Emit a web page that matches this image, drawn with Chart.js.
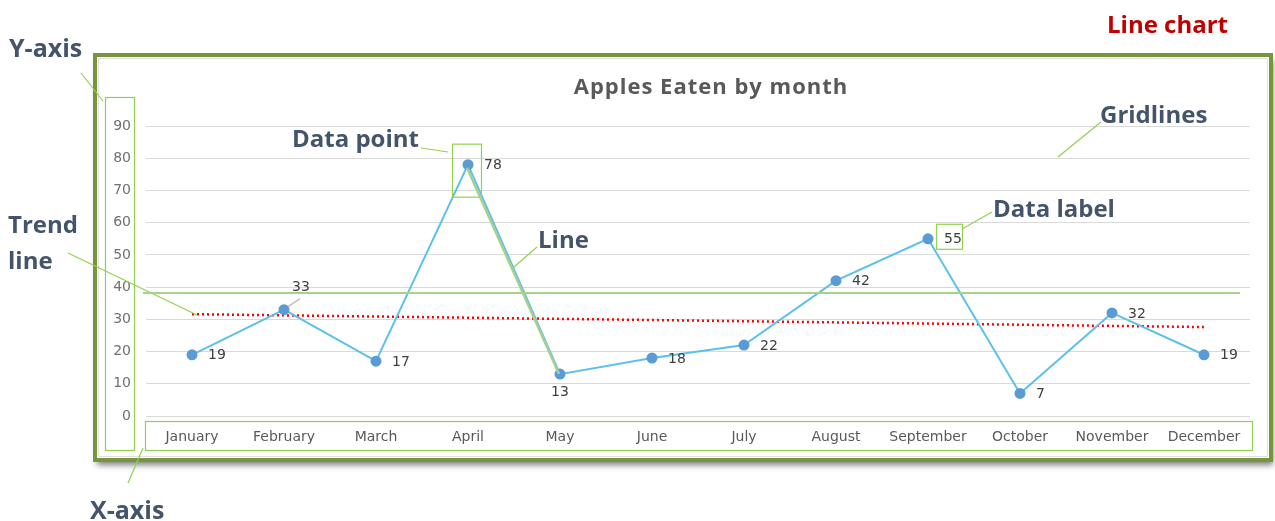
<!DOCTYPE html>
<html>
<head>
<meta charset="utf-8">
<title>Apples Eaten by month</title>
<script src="https://cdn.jsdelivr.net/npm/chart.js@4.4.1/dist/chart.umd.min.js"></script>
<style>
  html, body { margin: 0; padding: 0; background: #fff; }
  #wrap { width: 1275px; height: 521px; }
</style>
</head>
<body>
<div id="wrap"><canvas id="chart" width="1275" height="521"></canvas></div>
<script>
// Chart data
const months = ['January', 'February', 'March', 'April', 'May', 'June',
  'July', 'August', 'September', 'October', 'November', 'December'];
const applesEaten = [19, 33, 17, 78, 13, 18, 22, 42, 55, 7, 32, 19];
// Trend line end points
const trendLine = [31.6, null, null, null, null, null, null, null, null, null, null, 27.6];
const yMin = 0;
const yMax = 90;
const yStep = 10;

const FONT = "'Open Sans', 'Noto Sans', sans-serif";
const AXIS_FONT = "'DejaVu Sans', sans-serif";
const NOTE_GREEN = '#92D050';
const NOTE_TEXT = '#44546A';

// where each data label sits relative to its point
const labelSide = ['right', 'above', 'right', 'right', 'below', 'right',
  'right', 'right', 'right', 'right', 'right', 'right'];

function line(ctx, x1, y1, x2, y2, color, width) {
  ctx.save();
  ctx.strokeStyle = color;
  ctx.lineWidth = width;
  ctx.beginPath();
  ctx.moveTo(x1, y1);
  ctx.lineTo(x2, y2);
  ctx.stroke();
  ctx.restore();
}

function box(ctx, x, y, w, h) {
  ctx.save();
  ctx.strokeStyle = NOTE_GREEN;
  ctx.lineWidth = 1.2;
  ctx.strokeRect(x + 0.5, y + 0.5, w, h);
  ctx.restore();
}

function note(ctx, text, x, y, color, size) {
  ctx.save();
  ctx.font = 'bold ' + (size || 24) + 'px ' + FONT;
  ctx.fillStyle = color || NOTE_TEXT;
  ctx.textAlign = 'left';
  ctx.textBaseline = 'alphabetic';
  ctx.fillText(text, x, y);
  ctx.restore();
}

// Frame with drop shadow behind everything
const framePlugin = {
  id: 'frame',
  beforeDraw(chart) {
    const ctx = chart.ctx;
    ctx.save();
    ctx.fillStyle = '#fff';
    ctx.fillRect(0, 0, chart.width, chart.height);
    ctx.shadowColor = 'rgba(0,0,0,0.5)';
    ctx.shadowBlur = 6;
    ctx.shadowOffsetX = 2;
    ctx.shadowOffsetY = 5;
    ctx.fillRect(95, 55, 1176, 405);
    ctx.restore();

    ctx.save();
    ctx.strokeStyle = '#e0e0e0';
    ctx.lineWidth = 1;
    ctx.strokeRect(98.5, 58.5, 1169, 398);
    ctx.strokeStyle = '#77933C';
    ctx.lineWidth = 4;
    ctx.strokeRect(95, 55, 1176, 405);
    ctx.restore();

    // chart title
    ctx.save();
    ctx.font = 'bold 22px ' + FONT;
    ctx.letterSpacing = '1px';
    ctx.fillStyle = '#595959';
    ctx.textAlign = 'center';
    ctx.textBaseline = 'middle';
    ctx.fillText('Apples Eaten by month', 711, 88);
    ctx.restore();
  }
};

// Data labels next to the points
const labelPlugin = {
  id: 'dataLabels',
  afterDatasetsDraw(chart) {
    const ctx = chart.ctx;
    const meta = chart.getDatasetMeta(0);
    ctx.save();
    ctx.font = '14px ' + AXIS_FONT;
    ctx.fillStyle = '#404040';
    ctx.textBaseline = 'middle';
    meta.data.forEach((pt, i) => {
      const v = applesEaten[i];
      const side = labelSide[i];
      if (side === 'above') {
        line(ctx, pt.x + 4, pt.y - 3, pt.x + 16, pt.y - 11, '#bfbfbf', 1.5);
        ctx.textAlign = 'center';
        ctx.fillText(v, pt.x + 17, pt.y - 22);
      } else if (side === 'below') {
        ctx.textAlign = 'center';
        ctx.fillText(v, pt.x, pt.y + 18);
      } else {
        ctx.textAlign = 'left';
        ctx.fillText(v, pt.x + 16, pt.y + 1);
      }
    });
    ctx.restore();
  }
};

// Callouts drawn on top of the chart
const notesPlugin = {
  id: 'notes',
  afterDraw(chart) {
    const ctx = chart.ctx;
    const area = chart.chartArea;
    const pts = chart.getDatasetMeta(0).data;
    const apr = pts[3], may = pts[4], sep = pts[8];

    note(ctx, 'Line chart', 1107, 33, '#C00000', 24);

    // Y-axis
    note(ctx, 'Y-axis', 9, 57, null, 25);
    line(ctx, 81, 73, 103, 101, NOTE_GREEN, 1.2);
    box(ctx, 105, 97, 29, 353);

    // X-axis
    note(ctx, 'X-axis', 90, 519, null, 25);
    line(ctx, 128, 483, 143, 448, NOTE_GREEN, 1.2);
    box(ctx, area.left - 1, area.bottom + 5, area.right - area.left + 3, 29);

    // Trend line
    note(ctx, 'Trend', 8, 233);
    note(ctx, 'line', 8, 269);
    line(ctx, 68, 253, 197, 315, NOTE_GREEN, 1.2);
    line(ctx, area.left - 3, 293, area.right - 10, 293, '#A9D18E', 2);

    // Data point
    note(ctx, 'Data point', 292, 147);
    line(ctx, 421, 148, 448, 152, NOTE_GREEN, 1.2);
    box(ctx, apr.x - 16, apr.y - 21, 29, 53);

    // Line
    note(ctx, 'Line', 538, 248);
    line(ctx, 537, 247, 514, 267, NOTE_GREEN, 1.2);
    line(ctx, apr.x - 1, apr.y + 3, may.x - 1, may.y, '#A9D18E', 2.5);

    // Gridlines
    note(ctx, 'Gridlines', 1100, 123);
    line(ctx, 1101, 122, 1058, 157, NOTE_GREEN, 1.2);

    // Data label
    note(ctx, 'Data label', 993, 217);
    line(ctx, 992, 212, 962, 229, NOTE_GREEN, 1.2);
    box(ctx, sep.x + 8, sep.y - 15, 26, 25);
  }
};

const ctx = document.getElementById('chart').getContext('2d');
const chart = new Chart(ctx, {
  type: 'line',
  data: {
    labels: months,
    datasets: [
      {
        label: 'Apples',
        data: applesEaten,
        borderColor: '#5BC0EB',
        borderWidth: 2,
        pointBackgroundColor: '#5B9BD5',
        pointBorderColor: '#5B9BD5',
        pointRadius: 4.5,
        tension: 0
      },
      {
        label: 'Trend',
        data: trendLine,
        borderColor: '#FF0000',
        borderWidth: 2.5,
        borderDash: [2, 3],
        pointRadius: 0,
        spanGaps: true,
        tension: 0
      }
    ]
  },
  options: {
    responsive: false,
    animation: false,
    layout: { padding: { left: 100, right: 25, top: 126, bottom: 65 } },
    plugins: {
      legend: { display: false },
      tooltip: { enabled: false },
      title: { display: false }
    },
    scales: {
      x: {
        offset: true,
        grid: { display: false, drawTicks: false },
        border: { display: false },
        ticks: { color: '#595959', font: { family: AXIS_FONT, size: 14 }, padding: 13, maxRotation: 0 },
        afterFit: s => { s.height = 40; }
      },
      y: {
        min: yMin,
        max: yMax,
        grid: { color: '#d9d9d9', drawTicks: false },
        border: { display: false },
        ticks: { stepSize: yStep, color: '#707070', font: { family: AXIS_FONT, size: 14 }, padding: 15 },
        afterFit: s => { s.width = 46; }
      }
    }
  },
  plugins: [framePlugin, labelPlugin, notesPlugin]
});
</script>
</body>
</html>
